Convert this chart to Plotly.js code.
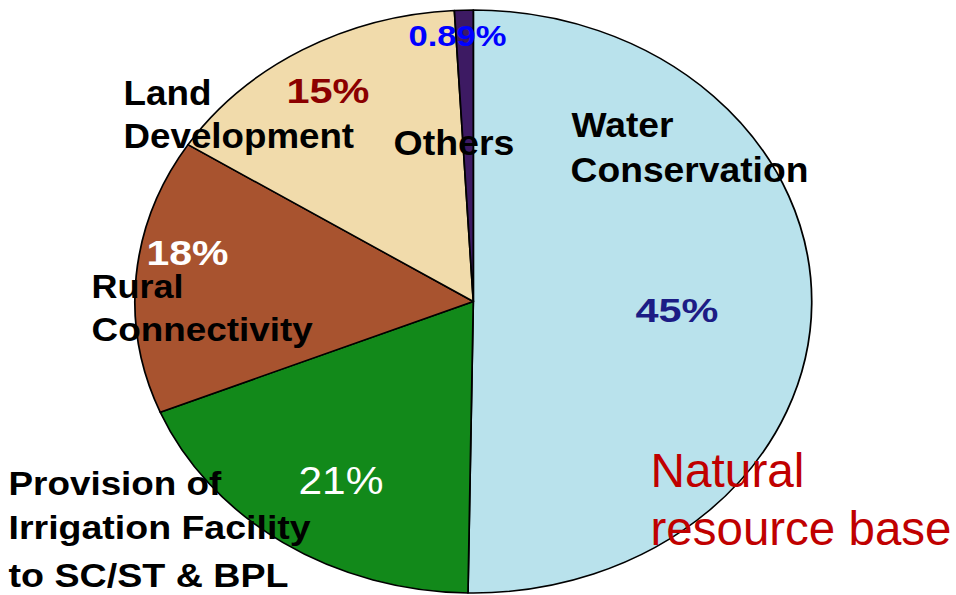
<!DOCTYPE html>
<html>
<head>
<meta charset="utf-8">
<script src="https://cdn.plot.ly/plotly-3.0.1.min.js"></script>
<style>
html,body{margin:0;padding:0;background:#ffffff;overflow:hidden}
#chart{width:956px;height:595px}
</style>
</head>
<body>
<div id="chart"></div>
<script>
// ---- data ----
const categories = ['Water Conservation', 'Provision of Irrigation Facility to SC/ST & BPL', 'Rural Connectivity', 'Land Development', 'Others'];
// angular share of each slice as drawn (percent of the full turn)
const sliceShares = [50.25, 18.55, 15.24, 15.07, 0.89];
// percentage labels printed on the chart
const percentLabels = ['45%', '21%', '18%', '15%', '0.89%'];
const sliceColors = ['#b9e2ec', '#12891a', '#a8532f', '#f1dbab', '#3d1a63'];

// ---- geometry / style (not data) ----
const W = 956, H = 595;
const pieCx = 473.3, pieCy = 301.5, pieR = 291.5, stretchX = 1.161;

const pieTrace = {
  type: 'pie',
  labels: categories,
  values: sliceShares,
  sort: false,
  direction: 'clockwise',
  rotation: 0,
  textinfo: 'none',
  hoverinfo: 'skip',
  showlegend: false,
  marker: {colors: sliceColors, line: {color: '#000000', width: 1.5}},
  domain: {
    x: [(pieCx - pieR) / W, (pieCx + pieR) / W],
    y: [1 - (pieCy + pieR) / H, 1 - (pieCy - pieR) / H]
  }
};

const BOLD = 'Liberation Sans, Arial, Helvetica, sans-serif';
// text label spec: [text, inkLeft, inkRight, baseline, fontSize, color, bold]
const labelSpecs = [
  ['Water', 573, 672, 137, 36, '#000000', true],
  ['Conservation', 572, 807, 182, 36, '#000000', true],
  [percentLabels[0], 637, 717, 322, 33, '#1c1c85', true],
  ['Natural', 652, 803, 487, 48, '#c00000', false],
  ['resource base', 652, 950, 545, 48, '#c00000', false],
  [percentLabels[1], 300, 382, 494, 39, '#ffffff', false],
  ['Provision of', 10, 221, 495, 33, '#000000', true],
  ['Irrigation Facility', 10, 310, 539, 33, '#000000', true],
  ['to SC/ST & BPL', 10, 287, 587, 33, '#000000', true],
  ['Rural', 93, 182, 298, 33, '#000000', true],
  ['Connectivity', 93, 312, 341, 33, '#000000', true],
  [percentLabels[2], 148, 227, 265, 35, '#ffffff', true],
  ['Land', 125, 210, 105, 35, '#000000', true],
  ['Development', 125, 353, 148, 35, '#000000', true],
  [percentLabels[3], 288, 368, 103, 35, '#8b0000', true],
  [categories[4], 395, 513, 155, 35, '#000000', true],
  [percentLabels[4], 410, 505, 45.5, 30, '#0000ff', true]
];

const annotations = labelSpecs.map(s => ({
  text: s[6] ? '<b>' + s[0] + '</b>' : s[0],
  xref: 'paper', yref: 'paper',
  x: s[1] / W,
  y: 1 - (s[3] - 0.35 * s[4]) / H,
  xanchor: 'left', yanchor: 'middle',
  showarrow: false,
  borderpad: 0,
  font: {family: BOLD, size: s[4], color: s[5]}
}));

const layout = {
  width: W, height: H,
  margin: {l: 0, r: 0, t: 0, b: 0, pad: 0},
  paper_bgcolor: '#ffffff',
  plot_bgcolor: '#ffffff',
  showlegend: false,
  annotations: annotations
};

Plotly.newPlot('chart', [pieTrace], layout, {staticPlot: true, displayModeBar: false, responsive: false}).then(gd => {
  // the reference pie is an ellipse: stretch the pie layer horizontally about its centre
  const pl = gd.querySelector('.pielayer');
  if (pl) pl.setAttribute('transform', `translate(${pieCx},0) scale(${stretchX},1) translate(${-pieCx},0)`);
  // the reference lettering is slightly widened: fit each label to its measured width
  labelSpecs.forEach((s, i) => {
    const g = gd.querySelector('.annotation[data-index="' + i + '"]');
    if (!g) return;
    const t = g.querySelector('text');
    if (!t) return;
    const r = t.getBoundingClientRect();
    if (!r.width) return;
    const sc = (s[2] - s[1] + 3) / r.width;
    const left = r.left;
    g.setAttribute('transform', `translate(${s[1] - 1.5},0) scale(${sc},1) translate(${-left},0)`);
  });
});
</script>
</body>
</html>
